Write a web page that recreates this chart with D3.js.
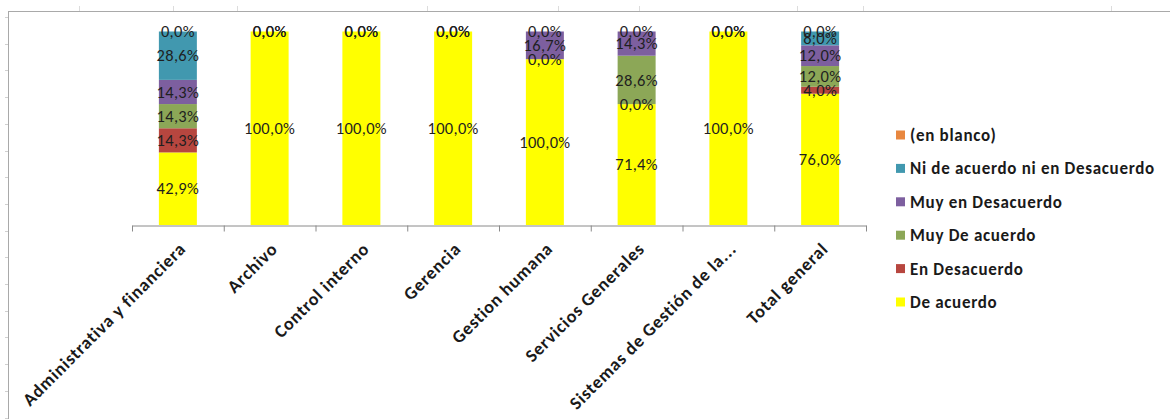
<!DOCTYPE html>
<html>
<head>
<meta charset="utf-8">
<script src="https://cdn.jsdelivr.net/npm/d3@7"></script>
<style>
  html, body { margin: 0; padding: 0; background: #ffffff; }
  svg { display: block; }
  text { font-family: Carlito, Lato, sans-serif; }
</style>
</head>
<body>
<svg id="chart" width="1170" height="419"></svg>
<script>
// ---- data ----
const categories = ["Administrativa y financiera", "Archivo", "Control interno", "Gerencia",
  "Gestion humana", "Servicios Generales", "Sistemas de Gestión de la...", "Total general"];
const seriesNames = ["De acuerdo", "En Desacuerdo", "Muy De acuerdo", "Muy en Desacuerdo",
  "Ni de acuerdo ni en Desacuerdo", "(en blanco)"];
const deAcuerdo       = [42.9, 100, 100, 100, 100, 71.4, 100, 76.0];
const enDesacuerdo    = [14.3, null, null, null, null, 0, null, 4.0];
const muyDeAcuerdo    = [14.3, null, null, null, 0, 28.6, null, 12.0];
const muyEnDesacuerdo = [14.3, null, null, null, 16.7, 14.3, null, 12.0];
const niDeAcuerdo     = [28.6, 0, 0, 0, null, null, 0, 8.0];
const enBlanco        = [0, 0, 0, 0, 0, 0, 0, 0];
const seriesValues = [deAcuerdo, enDesacuerdo, muyDeAcuerdo, muyEnDesacuerdo, niDeAcuerdo, enBlanco];
const colors = ["#FFFF00", "#B7463F", "#8CA757", "#7D5F9F", "#4198AF", "#E8873F"];

// ---- build ----
const svg = d3.select("#chart");
const rows = categories.map((c, i) => {
  const r = { cat: c };
  seriesNames.forEach((s, k) => { r[s] = seriesValues[k][i] == null ? 0 : seriesValues[k][i]; });
  return r;
});
const stacked = d3.stack().keys(seriesNames).offset(d3.stackOffsetExpand)(rows);

const x = d3.scaleBand().domain(categories).range([132, 866]).paddingInner(0.586).paddingOuter(0.293);
const y = d3.scaleLinear().domain([0, 1]).range([225, 31.5]);

// spreadsheet frame remnants
const frame = svg.append("g").attr("stroke", "#a9a9a9").attr("fill", "none");
frame.append("line").attr("x1", 8).attr("x2", 1170).attr("y1", 11.5).attr("y2", 11.5);
frame.append("line").attr("x1", 8.5).attr("x2", 8.5).attr("y1", 11).attr("y2", 419);
const topMarks = [79, 173, 237, 427, 558, 639, 797, 863, 1111];
frame.selectAll(".tm").data(topMarks).join("line")
  .attr("x1", d => d + 0.5).attr("x2", d => d + 0.5).attr("y1", 6).attr("y2", 11)
  .attr("stroke", "#dcdcdc");
const leftMarks = d3.range(17, 419, 26.7);
frame.selectAll(".lm").data(leftMarks).join("line")
  .attr("x1", 5).attr("x2", 8).attr("y1", d => Math.round(d) + 0.5).attr("y2", d => Math.round(d) + 0.5)
  .attr("stroke", "#d0d0d0");

// bars
const layers = svg.append("g").selectAll("g").data(stacked).join("g")
  .attr("fill", (d, i) => colors[i]);
layers.selectAll("rect").data(d => d).join("rect")
  .attr("x", d => x(d.data.cat))
  .attr("width", x.bandwidth())
  .attr("y", d => y(d[1]))
  .attr("height", d => y(d[0]) - y(d[1]));

// axis with ticks between categories
const xb = d3.scaleLinear().domain([0, categories.length]).range([132, 866]);
const axisG = svg.append("g").attr("transform", "translate(0,225.5)")
  .call(d3.axisBottom(xb).tickValues(d3.range(0, categories.length + 1)).tickSize(6).tickSizeOuter(0).tickFormat(""));
axisG.selectAll("path, line").attr("stroke", "#8a8a8a");

// category labels
svg.append("g").selectAll("text").data(categories).join("text")
  .attr("transform", d => `translate(${x(d) + x.bandwidth() / 2 + 9},${250}) rotate(-45)`)
  .attr("text-anchor", "end")
  .attr("font-size", 18).attr("letter-spacing", 0.8).attr("font-weight", "bold").attr("fill", "#1a1a1a")
  .text(d => d);

// data labels
const fmt = v => v.toFixed(1).replace(".", ",") + "%";
const labelData = [];
stacked.forEach((layer, k) => {
  layer.forEach((d, i) => {
    const v = seriesValues[k][i];
    if (v != null) labelData.push({ cat: d.data.cat, mid: (d[0] + d[1]) / 2, v });
  });
});
svg.append("g").selectAll("text").data(labelData).join("text")
  .attr("x", d => x(d.cat) + x.bandwidth() / 2)
  .attr("y", d => y(d.mid))
  .attr("dy", "0.35em")
  .attr("text-anchor", "middle")
  .attr("font-size", 16.5).attr("letter-spacing", 0.3).attr("fill", "#1f1f1f")
  .text(d => fmt(d.v));

// legend (reverse order)
const legendOrder = seriesNames.map((s, i) => ({ s, c: colors[i] })).reverse();
const lg = svg.append("g").selectAll("g").data(legendOrder).join("g")
  .attr("transform", (d, i) => `translate(896,${135 + i * 33.4})`);
lg.append("rect").attr("x", 0).attr("y", -4.5).attr("width", 9).attr("height", 9).attr("fill", d => d.c);
lg.append("text").attr("x", 14).attr("dy", "0.35em")
  .attr("font-size", 17).attr("letter-spacing", 0.7).attr("font-weight", "bold").attr("fill", "#1a1a1a")
  .text(d => d.s);
</script>
</body>
</html>
